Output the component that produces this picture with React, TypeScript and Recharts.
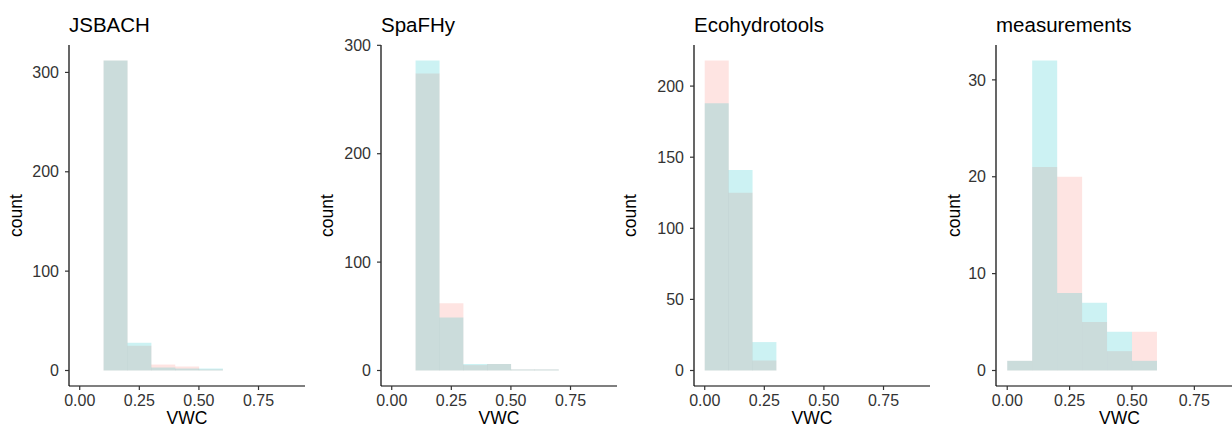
import React from "react";
import { ComposedChart, Bar, XAxis, YAxis } from "recharts";

// Histogram bin centres (bin width 0.1)
const jsbachBins = [0.15, 0.25, 0.35, 0.45, 0.55];
const jsbachRed = [312, 25, 6, 4, 1];
const jsbachCyan = [312, 28, 3, 2, 2];

const spafhyBins = [0.15, 0.25, 0.35, 0.45, 0.55, 0.65];
const spafhyRed = [274, 62, 5, 6, 1, 1];
const spafhyCyan = [286, 49, 6, 6, 1, 1];

const ecoBins = [0.05, 0.15, 0.25];
const ecoRed = [218, 125, 7];
const ecoCyan = [188, 141, 20];

const measBins = [0.05, 0.15, 0.25, 0.35, 0.45, 0.55];
const measRed = [1, 21, 20, 5, 2, 4];
const measCyan = [1, 32, 8, 7, 4, 1];

const xTicks = [0, 0.25, 0.5, 0.75];
const xDomain = [-0.045, 0.945];
const jsbachYTicks = [0, 100, 200, 300];
const spafhyYTicks = [0, 100, 200, 300];
const ecoYTicks = [0, 50, 100, 150, 200];
const measYTicks = [0, 10, 20, 30];

const panelTitles = ["JSBACH", "SpaFHy", "Ecohydrotools", "measurements"];

const RED = "#F8766D";
const CYAN = "#00BFC4";
const FONT = "'Liberation Sans', Arial, Helvetica, sans-serif";

type PanelProps = {
  title: string;
  bins: number[];
  red: number[];
  cyan: number[];
  yTicks: number[];
  left: number;
  plotLeft: number;
  plotRight: number;
  countOffset: number;
};

function Panel({ title, bins, red, cyan, yTicks, left, plotLeft, plotRight, countOffset }: PanelProps) {
  const rows = bins.map((b, i) => ({ x: b, red: red[i], cyan: cyan[i] }));
  const maxVal = Math.max(...red, ...cyan);
  const yDomain = [-0.05 * maxVal, 1.05 * maxVal];
  const width = plotRight - left + 3;
  const yAxisWidth = plotLeft - left;
  const tickStyle = { fill: "#333333", fontSize: 16, fontFamily: FONT };
  return (
    <div style={{ position: "absolute", left, top: 0, width, height: 428 }}>
      <div
        style={{
          position: "absolute",
          left: yAxisWidth,
          top: 14.5,
          fontFamily: FONT,
          fontSize: 20.5,
          lineHeight: "20px",
          color: "#000",
          whiteSpace: "nowrap",
        }}
      >
        {title}
      </div>
      <ComposedChart
        width={width}
        height={428}
        data={rows}
        margin={{ top: 45, right: 3, bottom: 0, left: 0 }}
        barCategoryGap={0}
        barGap={0}
      >
        <XAxis
          xAxisId="a"
          type="number"
          dataKey="x"
          domain={xDomain}
          ticks={xTicks}
          interval={0}
          tickCount={10}
          tickFormatter={(v: number) => v.toFixed(2)}
          height={42}
          tickSize={4}
          tickMargin={5}
          tick={tickStyle}
          axisLine={{ stroke: "#000", strokeWidth: 1.2 }}
          tickLine={{ stroke: "#333", strokeWidth: 1.2 }}
          label={{
            value: "VWC",
            position: "insideBottom",
            offset: 4.5,
            style: { fill: "#000", fontSize: 17.5, fontFamily: FONT },
          }}
        />
        <XAxis xAxisId="b" type="number" dataKey="x" domain={xDomain} tickCount={10} hide />
        <YAxis
          type="number"
          domain={yDomain}
          ticks={yTicks}
          interval={0}
          width={yAxisWidth}
          tickSize={4}
          tickMargin={6}
          tick={tickStyle}
          axisLine={{ stroke: "#000", strokeWidth: 1.2 }}
          tickLine={{ stroke: "#333", strokeWidth: 1.2 }}
          label={{
            value: "count",
            angle: -90,
            position: "insideLeft",
            offset: countOffset,
            style: { fill: "#000", fontSize: 17.5, fontFamily: FONT, textAnchor: "middle" },
          }}
        />
        <Bar xAxisId="a" dataKey="red" fill={RED} fillOpacity={0.2} isAnimationActive={false} />
        <Bar xAxisId="b" dataKey="cyan" fill={CYAN} fillOpacity={0.2} isAnimationActive={false} />
      </ComposedChart>
    </div>
  );
}

export default function App() {
  return (
    <div
      style={{
        position: "absolute",
        left: 0,
        top: 0,
        width: 1232,
        height: 428,
        overflow: "hidden",
        background: "#fff",
      }}
    >
      <Panel title={panelTitles[0]} bins={jsbachBins} red={jsbachRed} cyan={jsbachCyan} yTicks={jsbachYTicks}
        left={0} plotLeft={69} plotRight={305} countOffset={15.5} />
      <Panel title={panelTitles[1]} bins={spafhyBins} red={spafhyRed} cyan={spafhyCyan} yTicks={spafhyYTicks}
        left={308} plotLeft={381} plotRight={617} countOffset={19} />
      <Panel title={panelTitles[2]} bins={ecoBins} red={ecoRed} cyan={ecoCyan} yTicks={ecoYTicks}
        left={616} plotLeft={694} plotRight={930} countOffset={14} />
      <Panel title={panelTitles[3]} bins={measBins} red={measRed} cyan={measCyan} yTicks={measYTicks}
        left={924} plotLeft={996} plotRight={1243} countOffset={30} />
    </div>
  );
}
